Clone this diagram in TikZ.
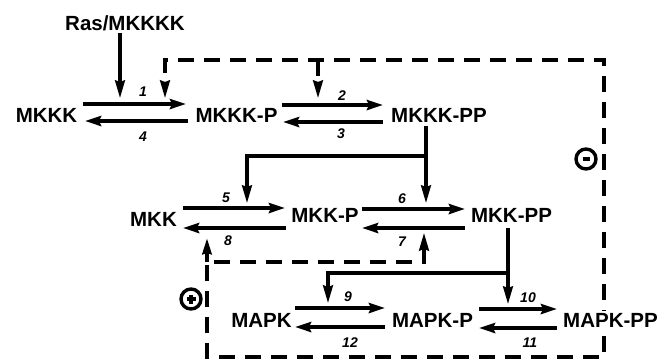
\documentclass[tikz,border=0pt]{standalone}
\usepackage{fontspec}
\setmainfont{Liberation Sans}
\usetikzlibrary{arrows.meta}
\begin{document}
\begin{tikzpicture}[x=1pt,y=-1pt,
  species/.style={inner sep=0pt,anchor=base,font=\fontsize{20.5}{24}\selectfont\bfseries},
  rlabel/.style={inner sep=0pt,anchor=center,font=\fontsize{14}{16}\selectfont\bfseries\itshape},
  rxn/.style={line width=4.2pt,-{Stealth[length=16pt,width=10pt,inset=2pt]}},
  cat/.style={line width=4.2pt,-{Stealth[length=18pt,width=9pt,inset=1pt]}},
  fb/.style={line width=4.2pt,dash pattern=on 16pt off 10pt},
  fbarrow/.style={fb,-{Stealth[length=18pt,width=9pt,inset=1pt]}},
  sign/.style={circle,draw,line width=3.4pt,minimum size=20pt,inner sep=0pt}
]
\useasboundingbox (0,0) rectangle (671,360);
% reaction arrow end points
\coordinate (r1a) at (83,104);  \coordinate (r1b) at (186,104);
\coordinate (r4a) at (188,121); \coordinate (r4b) at (85,121);
\coordinate (r2a) at (282,105); \coordinate (r2b) at (383,105);
\coordinate (r3a) at (383,122); \coordinate (r3b) at (283,122);
\coordinate (r5a) at (183,208); \coordinate (r5b) at (285,208);
\coordinate (r8a) at (286,228); \coordinate (r8b) at (183,228);
\coordinate (r6a) at (362,209); \coordinate (r6b) at (465,209);
\coordinate (r7a) at (465,228); \coordinate (r7b) at (362,228);
\coordinate (r9a) at (295,308); \coordinate (r9b) at (385,308);
\coordinate (r12a) at (385,327); \coordinate (r12b) at (295,327);
\coordinate (r10a) at (479,309); \coordinate (r10b) at (557,309);
\coordinate (r11a) at (557,328); \coordinate (r11b) at (479,328);
\foreach \a/\b in {r1a/r1b,r4a/r4b,r2a/r2b,r3a/r3b,r5a/r5b,r8a/r8b,r6a/r6b,r7a/r7b,r9a/r9b,r12a/r12b,r10a/r10b,r11a/r11b}
  \draw[rxn] (\a) -- (\b);
% reaction labels
\node[rlabel] (l1) at (143,92) {1};
\node[rlabel] (l4) at (143,137) {4};
\node[rlabel] (l2) at (342,96) {2};
\node[rlabel] (l3) at (341,134) {3};
\node[rlabel] (l5) at (226,198) {5};
\node[rlabel] (l8) at (228,241) {8};
\node[rlabel] (l6) at (402,199) {6};
\node[rlabel] (l7) at (402,242) {7};
\node[rlabel] (l9) at (348,297) {9};
\node[rlabel] (l12) at (350,343) {12};
\node[rlabel] (l10) at (528,298) {10};
\node[rlabel] (l11) at (530,343) {11};
% catalysis (solid)
\coordinate (rasb) at (120,33);
\coordinate (t1) at (120,99);
\draw[cat] (rasb) -- (t1);
\coordinate (k3a) at (426,126);
\coordinate (k3j) at (426,156);
\coordinate (k3l) at (247,156);
\coordinate (t6) at (426,204);
\coordinate (t5) at (247,204);
\draw[cat] (k3a) -- (t6);
\draw[cat] (k3j) -- (k3l) -- (t5);
\coordinate (k2a) at (508,228);
\coordinate (k2j) at (508,273);
\coordinate (k2l) at (328,273);
\coordinate (t10) at (508,305);
\coordinate (t9) at (328,304);
\draw[cat] (k2a) -- (t10);
\draw[cat] (k2j) -- (k2l) -- (t9);
% feedback (dashed)
\coordinate (t7) at (424,232);
\coordinate (c1) at (424,262);
\coordinate (c2) at (207,262);
\coordinate (c3) at (207,357);
\coordinate (c4) at (604,357);
\coordinate (c5) at (604,60);
\coordinate (c6) at (165,60);
\coordinate (tf1) at (165,99);
\coordinate (c7) at (318,60);
\coordinate (tf2) at (318,99);
\coordinate (t8) at (207,238);
\draw[fb,{Stealth[length=18pt,width=9pt,inset=1pt]}-{Stealth[length=18pt,width=9pt,inset=1pt]}]
  (t7) -- (c1) -- (c2) -- (c3) -- (c4) -- (c5) -- (c6) -- (tf1);
\draw[fbarrow] (c7) -- (tf2);
\draw[line width=4.2pt,-{Stealth[length=16pt,width=9pt,inset=1pt]}] (c2) -- (t8);
% signs
\node[sign] (minus) at (586,159) {};
\draw[line width=3.2pt] ([xshift=-3.5pt]minus.center) -- ([xshift=3.5pt]minus.center);
\node[sign] (plus) at (191,299) {};
\draw[line width=3.2pt] ([xshift=-4.5pt]plus.center) -- ([xshift=4.5pt]plus.center);
\draw[line width=3.2pt] ([yshift=-4.5pt]plus.center) -- ([yshift=4.5pt]plus.center);
% species
\node[species] (ras)   at (125,30)  {Ras/MKKKK};
\node[species] (mkkk)  at (46.5,122) {MKKK};
\node[species] (mkkkp) at (236.5,122) {MKKK-P};
\node[species] (mkkkpp) at (439,122) {MKKK-PP};
\node[species] (mkk)   at (153.5,226) {MKK};
\node[species] (mkkp)  at (325,222) {MKK-P};
\node[species] (mkkpp) at (511.5,222) {MKK-PP};
\node[species] (mapk)  at (261.5,327) {MAPK};
\node[species] (mapkp) at (432.5,327) {MAPK-P};
\node[species,fill=white,inner sep=2pt] (mapkpp) at (610.5,327) {MAPK-PP};
\end{tikzpicture}
\end{document}
